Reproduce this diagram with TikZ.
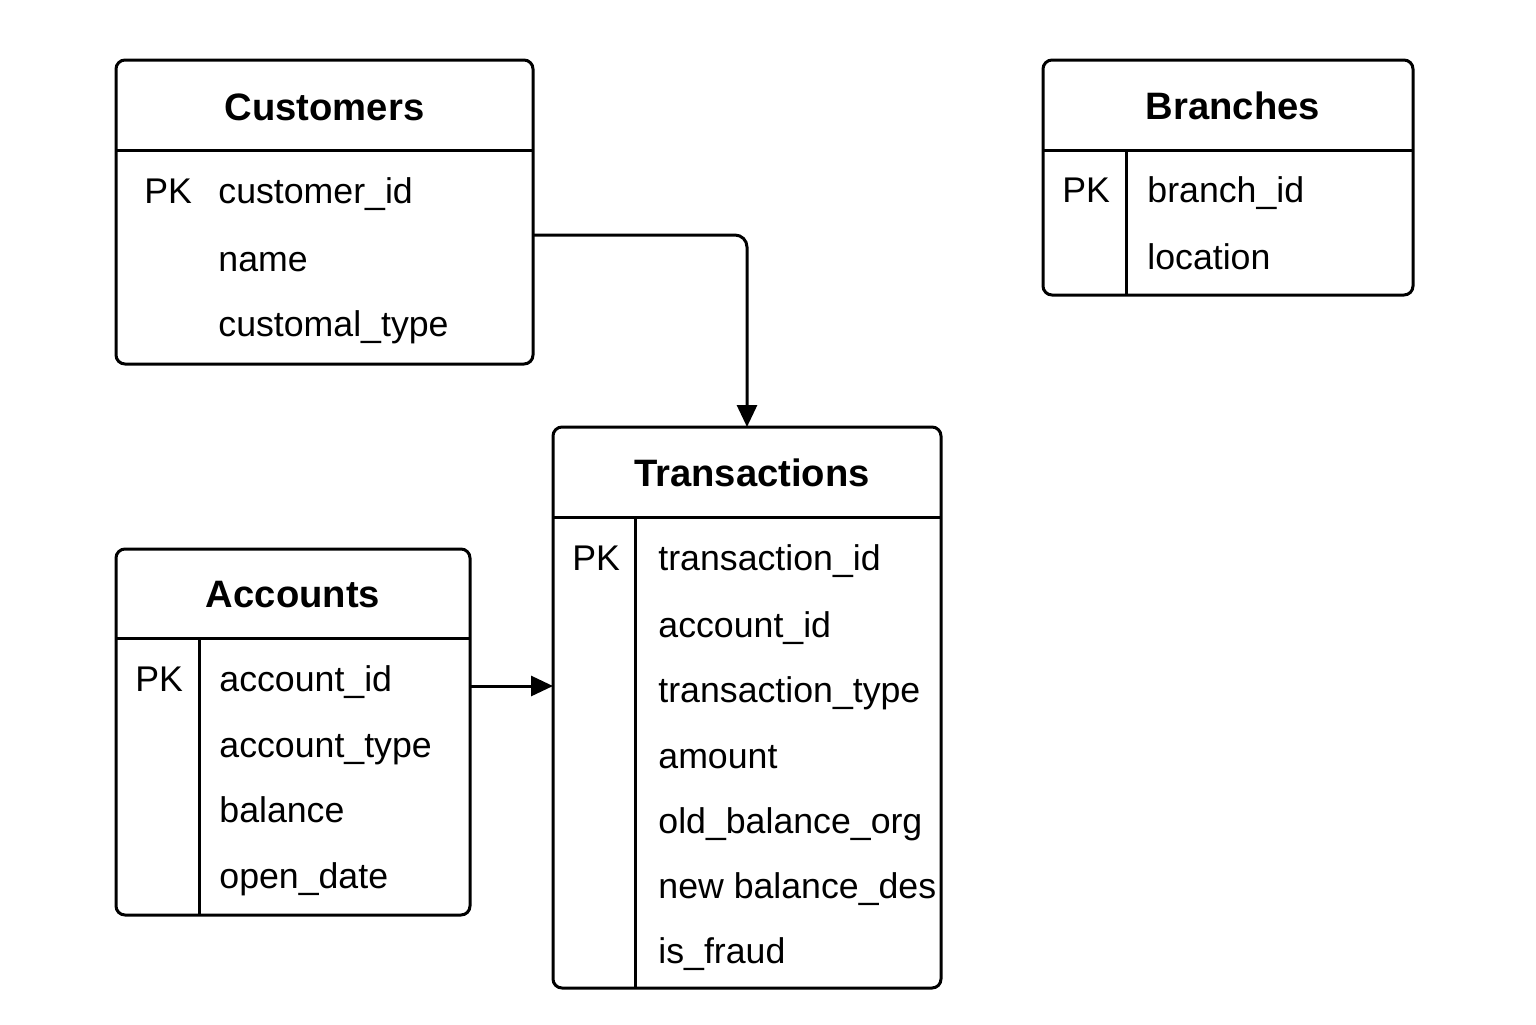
\documentclass[tikz,border=0pt]{standalone}
\usepackage{fontspec}
\setmainfont{Liberation Sans}
\usetikzlibrary{arrows.meta}
\begin{document}
\begin{tikzpicture}[x=0.5pt,y=-0.5pt,
  tbl/.style={draw,line width=1.5pt,rounded corners=4.5pt,inner sep=0pt,outer sep=0pt},
  sep/.style={line width=1.5pt},
  ttl/.style={anchor=base,inner sep=0pt,font=\fontsize{19.1}{22}\selectfont\bfseries},
  fld/.style={anchor=base west,inner sep=0pt,font=\fontsize{17.85}{21}\selectfont},
  conn/.style={line width=1.5pt,-{Triangle[length=11pt,width=10pt]}}]
\useasboundingbox (0,0) rectangle (1536,1024);
% Customers
\node[tbl,minimum width=208.5pt,minimum height=152pt] (C) at (324.5,212) {};
\draw[sep] (116,150) -- (533,150);
\node[ttl] (Ct) at (324.5,120) {Customers};
\node[fld] (Cpk) at (144,203) {PK};
\node[fld] (C1) at (218,203) {customer\_id};
\node[fld] (C2) at (218,271) {name};
\node[fld] (C3) at (218,336) {customal\_type};
% Branches
\node[tbl,minimum width=185pt,minimum height=117.5pt] (B) at (1228,177.5) {};
\draw[sep] (1043,150) -- (1413,150);
\draw[sep] (1126,150) -- (1126,295);
\node[ttl] (Bt) at (1233,119) {Branches};
\node[fld] (Bpk) at (1062,202) {PK};
\node[fld] (B1) at (1147,202) {branch\_id};
\node[fld] (B2) at (1147,269) {location};
% Transactions
\node[tbl,minimum width=194pt,minimum height=280.5pt] (T) at (747,707.5) {};
\draw[sep] (553,517) -- (941,517);
\draw[sep] (635,517) -- (635,988);
\node[ttl] (Tt) at (752,486) {Transactions};
\node[fld] (Tpk) at (572,570) {PK};
\node[fld] (T1) at (658,570) {transaction\_id};
\node[fld] (T2) at (658,637) {account\_id};
\node[fld] (T3) at (658,702) {transaction\_type};
\node[fld] (T4) at (658,768) {amount};
\node[fld] (T5) at (658,833) {old\_balance\_org};
\node[fld] (T6) at (658,898) {new balance\_des};
\node[fld] (T7) at (658,963) {is\_fraud};
% Accounts
\node[tbl,minimum width=177pt,minimum height=183pt] (A) at (293,732) {};
\draw[sep] (116,638) -- (470,638);
\draw[sep] (199,638) -- (199,915);
\node[ttl] (At) at (293,607) {Accounts};
\node[fld] (Apk) at (135,691) {PK};
\node[fld] (A1) at (219,691) {account\_id};
\node[fld] (A2) at (219,757) {account\_type};
\node[fld] (A3) at (219,822) {balance};
\node[fld] (A4) at (219,888) {open\_date};
% connectors
\coordinate (cs) at (C.east |- 0,235);
\coordinate (ct) at (747,0);
\draw[conn,rounded corners=6pt] (cs) -| (ct |- T.north);
\coordinate (as) at (A.east |- 0,686);
\draw[conn] (as) -- (T.west |- as);
\end{tikzpicture}
\end{document}
